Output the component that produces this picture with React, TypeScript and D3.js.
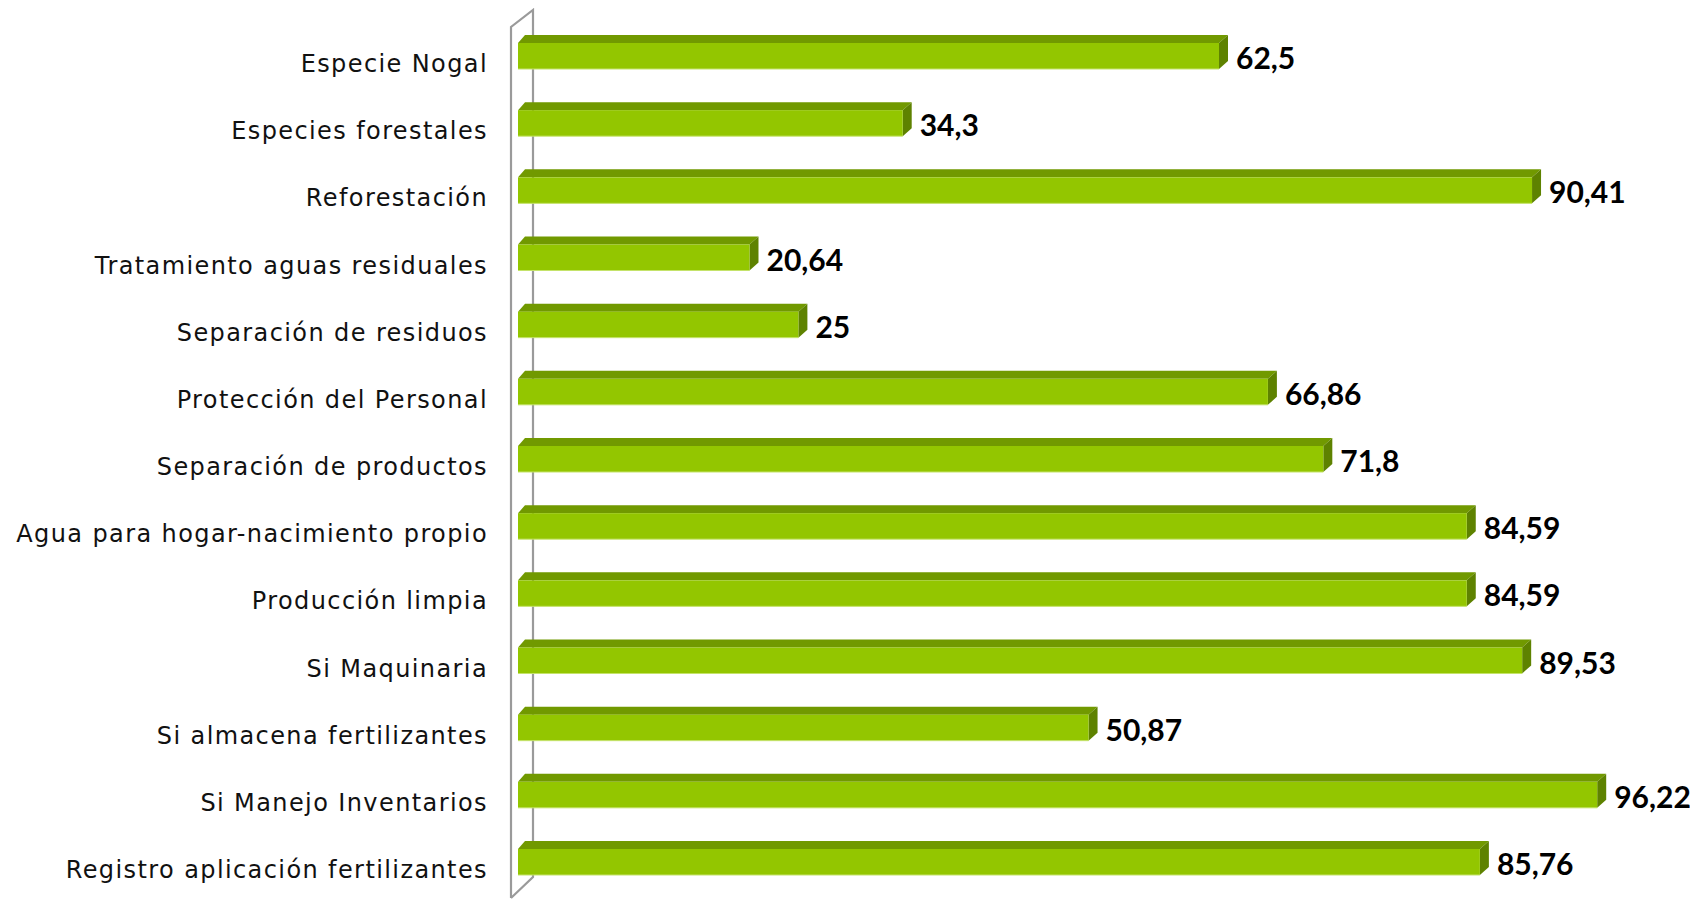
import React from "react";
import * as d3 from "d3";

const categories = [
  "Especie Nogal",
  "Especies forestales",
  "Reforestación",
  "Tratamiento aguas residuales",
  "Separación de residuos",
  "Protección del Personal",
  "Separación de productos",
  "Agua para hogar-nacimiento propio",
  "Producción limpia",
  "Si Maquinaria",
  "Si almacena fertilizantes",
  "Si Manejo Inventarios",
  "Registro aplicación fertilizantes",
];
const values = [62.5, 34.3, 90.41, 20.64, 25, 66.86, 71.8, 84.59, 84.59, 89.53, 50.87, 96.22, 85.76];
const valueLabels = ["62,5", "34,3", "90,41", "20,64", "25", "66,86", "71,8", "84,59", "84,59", "89,53", "50,87", "96,22", "85,76"];

const W = 1690;
const H = 900;

export default function App() {
  const x = d3.scaleLinear().domain([0, 100]).range([518, 1639.6]);
  const y = d3.scalePoint<string>().domain(categories).range([56, 862]);
  const barH = 26;
  const dx = 9;
  const dy = 8;

  const wallFrontX = 511;
  const wallBackX = 533;
  const wallTop = 10;
  const wallBottom = 898;
  const wallPath = `M${wallFrontX},${wallBottom} L${wallFrontX},${wallTop + 17} L${wallBackX},${wallTop} L${wallBackX},${wallBottom - 21} L${wallFrontX},${wallBottom}`;

  return (
    <div style={{ position: "fixed", left: 0, top: 0, width: W, height: H, background: "#fff" }}>
      <svg width={W} height={H} style={{ display: "block" }}>
        <path d={wallPath} fill="none" stroke="#9a9a9a" strokeWidth={2.2} strokeLinejoin="miter" />
        {categories.map((c, i) => {
          const cy = y(c) as number;
          const x0 = x(0);
          const x1 = x(values[i]);
          const top = cy - barH / 2;
          const bot = cy + barH / 2;
          return (
            <g key={c}>
              <polygon
                points={`${x0},${top} ${x0 + dx - 2},${top - dy} ${x1 + dx},${top - dy} ${x1},${top}`}
                fill="#719900"
              />
              <polygon
                points={`${x1},${top} ${x1 + dx},${top - dy} ${x1 + dx},${bot - dy} ${x1},${bot}`}
                fill="#5e8200"
              />
              <rect x={x0} y={top} width={x1 - x0} height={barH} fill="#93c600" />
              <line x1={x0} x2={x1} y1={bot} y2={bot} stroke="#c4e36a" strokeWidth={1} />
              <text
                x={488}
                y={cy + 16}
                textAnchor="end"
                fontFamily="'DejaVu Sans', sans-serif"
                fontSize={24}
                letterSpacing={1.4}
                fill="#111"
              >
                {c}
              </text>
              <text
                x={x1 + dx + 8}
                y={cy + 13}
                textAnchor="start"
                fontFamily="Lato, sans-serif"
                fontWeight={700}
                fontSize={30}
                fill="#000"
              >
                {valueLabels[i]}
              </text>
            </g>
          );
        })}
      </svg>
    </div>
  );
}
